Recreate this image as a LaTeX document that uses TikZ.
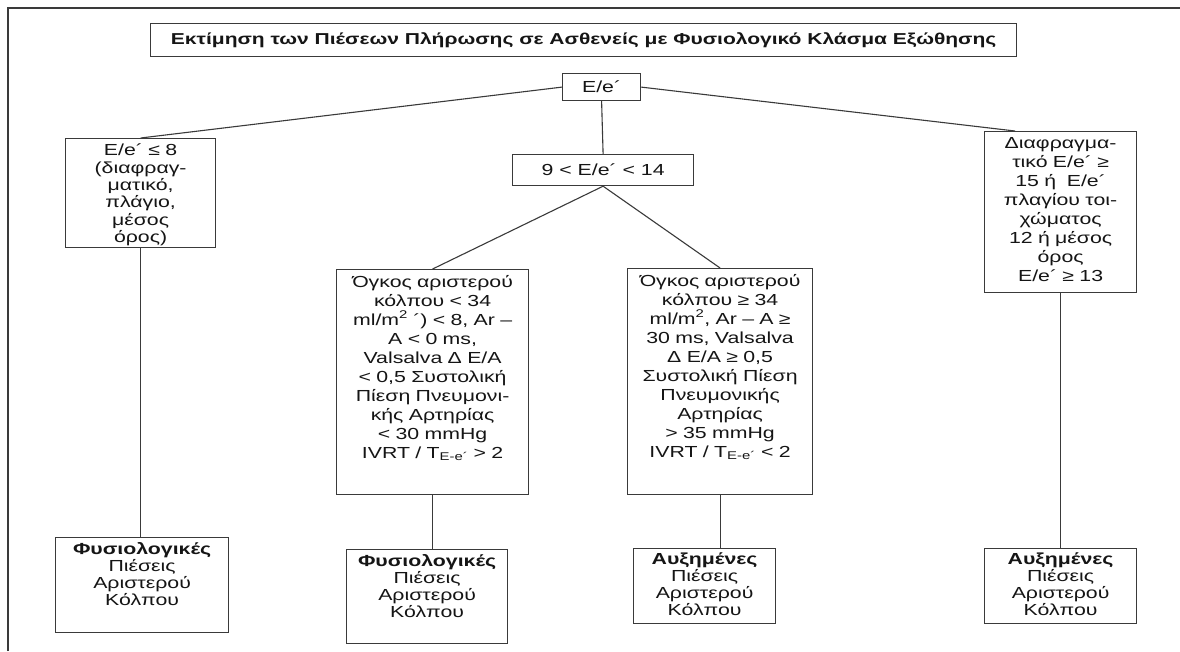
\documentclass[tikz,border=0pt]{standalone}
\usepackage{fontspec}
\setmainfont{Liberation Sans}[FakeStretch=1.33]
\usetikzlibrary{calc}
\definecolor{ln}{HTML}{3A3A3A}
\definecolor{tx}{HTML}{151515}
\tikzset{
  box/.style={draw=ln, line width=1.2pt, inner sep=0pt, fill=white},
  txt/.style={align=center, inner sep=0pt, text=tx, font=\fontsize{16pt}{19pt}\selectfont},
  btxt/.style={txt, font=\fontsize{16pt}{17pt}\selectfont},
  conn/.style={draw=ln, line width=1.1pt},
}
\newcommand{\bxn}[6]{%
  \node[box, minimum width=#4pt, minimum height=#5pt, anchor=north west] (#1) at (#2,#3) {};
  \node[txt, anchor=north, text width=#4pt] (#1t) at ([yshift=-6pt]#1.north) {#6};}
\newcommand{\bxb}[6]{%
  \node[box, minimum width=#4pt, minimum height=#5pt, anchor=north west] (#1) at (#2,#3) {};
  \node[btxt, anchor=north, text width=#4pt] (#1t) at ([yshift=-5pt]#1.north) {#6};}
\begin{document}
\begin{tikzpicture}[x=1pt,y=-1pt]
\useasboundingbox (0,0) rectangle (1180,651);
\fill[white] (0,0) rectangle (1180,651);
\draw[conn] (8,651) -- (8,8) -- (1180,8);
% title
\node[box, minimum width=866pt, minimum height=33pt, anchor=north west] (title) at (150,23) {};
\node[txt, font=\bfseries\fontsize{15.8pt}{17pt}\selectfont] at (title.center) {Εκτίμηση των Πιέσεων Πλήρωσης σε Ασθενείς με Φυσιολογικό Κλάσμα Εξώθησης};
% E/e box
\node[box, minimum width=78pt, minimum height=27pt, anchor=north west] (ee) at (562,73) {};
\node[txt] at (ee.center) {E/e´};
% level 2
\node[box, minimum width=150pt, minimum height=109pt, anchor=north west] (lb) at (65,138) {};
\node[txt, anchor=north, text width=150pt, font=\fontsize{16pt}{17.3pt}\selectfont] (lbt) at ([yshift=-6pt]lb.north) {E/e´ ≤ 8\\(διαφραγ-\\ματικό,\\πλάγιο,\\μέσος\\όρος)};
\node[box, minimum width=181pt, minimum height=31pt, anchor=north west] (mb) at (512,154) {};
\node[txt] at (mb.center) {9 < E/e´ < 14};
\bxn{rb}{984}{131}{152}{161}{Διαφραγμα-\\τικό E/e´ ≥\\15 ή\ \ E/e´\\πλαγίου τοι-\\χώματος\\12 ή μέσος\\όρος\\E/e´ ≥ 13}
% tall boxes
\bxn{ta}{336}{269}{192}{225}{Όγκος αριστερού\\κόλπου < 34\\ml/m\textsuperscript{2} ´) < 8, Ar –\\A < 0 ms,\\Valsalva Δ E/A\\< 0,5 Συστολική\\Πίεση Πνευμονι-\\κής Αρτηρίας\\< 30 mmHg\\IVRT / T\textsubscript{E-e´} > 2}
\bxn{tb}{627}{268}{185}{226}{Όγκος αριστερού\\κόλπου ≥ 34\\ml/m\textsuperscript{2}, Ar – A ≥\\30 ms, Valsalva\\Δ E/A ≥ 0,5\\Συστολική Πίεση\\Πνευμονικής\\Αρτηρίας\\> 35 mmHg\\IVRT / T\textsubscript{E-e´} < 2}
% bottom boxes
\bxb{ba}{55}{537}{173}{95}{\textbf{Φυσιολογικές}\\Πιέσεις\\Αριστερού\\Κόλπου}
\bxb{bb}{346}{549}{161}{94}{\textbf{Φυσιολογικές}\\Πιέσεις\\Αριστερού\\Κόλπου}
\bxb{bc}{633}{548}{142}{75}{\textbf{Αυξημένες}\\Πιέσεις\\Αριστερού\\Κόλπου}
\bxb{bd}{984}{548}{152}{75}{\textbf{Αυξημένες}\\Πιέσεις\\Αριστερού\\Κόλπου}
% connectors
\draw[conn] (ee.west) -- (lb.north);
\draw[conn] (ee.east) -- ($(rb.north west)+(31,0)$);
\draw[conn] (ee.south) -- (mb.north);
\draw[conn] (mb.south) -- (ta.north);
\draw[conn] (mb.south) -- (tb.north);
\draw[conn] (lb.south) -- (lb.south |- ba.north);
\draw[conn] (rb.south) -- (rb.south |- bd.north);
\draw[conn] (ta.south) -- (ta.south |- bb.north);
\draw[conn] (tb.south) -- (tb.south |- bc.north);
\end{tikzpicture}
\end{document}
